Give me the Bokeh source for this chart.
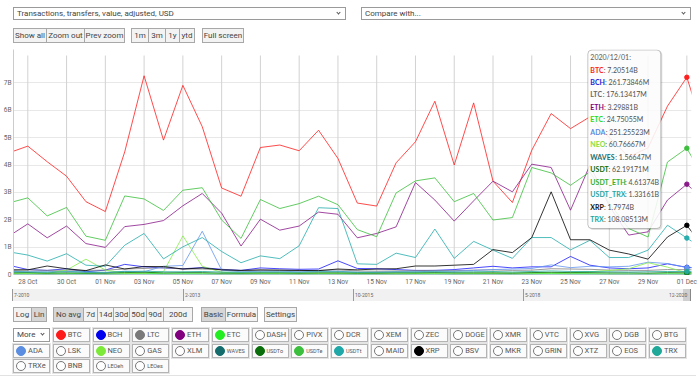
import pandas as pd
from bokeh.plotting import figure
from bokeh.models import (Div, FixedTicker, DatetimeTickFormatter, CustomJSTickFormatter,
                          Range1d, BoxAnnotation, Label, ColumnDataSource)
from bokeh.layouts import column
from bokeh.embed import file_html
from bokeh.resources import INLINE

# ---------------- data (billions USD per day, 27 Oct .. 02 Dec 2020) ----------------
dates = pd.date_range("2020-10-27", "2020-12-02", freq="D")

btc = [4.44, 4.69, 4.12, 3.59, 2.66, 2.30, 4.48, 7.26, 4.91, 6.91, 5.40, 3.16, 2.86, 4.64, 4.73,
       4.52, 5.27, 4.24, 2.61, 2.50, 4.08, 4.85, 6.33, 4.00, 6.27, 3.41, 2.63, 4.54, 5.88, 5.33,
       5.76, 5.00, 4.30, 4.63, 6.15, 7.20514, 4.95]
bch = [0.34, 0.18, 0.15, 0.21, 0.10, 0.16, 0.37, 0.28, 0.24, 0.21, 0.25, 0.19, 0.15, 0.24, 0.21,
       0.19, 0.20, 0.50, 0.22, 0.21, 0.18, 0.15, 0.15, 0.18, 0.24, 0.30, 0.24, 0.28, 0.28, 0.66,
       0.34, 0.24, 0.21, 0.24, 0.39, 0.26173846, 0.24]
ltc = [0.18, 0.17, 0.15, 0.16, 0.15, 0.16, 0.20, 0.22, 0.25, 0.20, 0.20, 0.17, 0.14, 0.15, 0.15,
       0.14, 0.15, 0.17, 0.13, 0.12, 0.13, 0.14, 0.15, 0.14, 0.16, 0.17, 0.15, 0.16, 0.21, 0.20,
       0.19, 0.16, 0.15, 0.15, 0.18, 0.17613417, 0.16]
eth = [1.39, 1.85, 1.34, 1.77, 1.13, 0.99, 1.75, 1.83, 1.97, 2.51, 2.96, 2.24, 1.04, 2.02, 1.62,
       1.77, 2.28, 2.20, 1.34, 1.50, 1.74, 3.36, 2.72, 1.95, 2.69, 3.41, 3.02, 4.03, 3.91, 2.35,
       4.00, 2.50, 1.44, 1.56, 2.72, 3.29881, 2.64]
etc = [0.03, 0.03, 0.02, 0.03, 0.03, 0.02, 0.03, 0.04, 0.03, 0.03, 0.03, 0.02, 0.02, 0.03, 0.03,
       0.02, 0.03, 0.03, 0.02, 0.02, 0.02, 0.03, 0.03, 0.02, 0.03, 0.03, 0.02, 0.03, 0.04, 0.03,
       0.03, 0.02, 0.02, 0.02, 0.03, 0.02475055, 0.02]
ada = [0.12, 0.10, 0.10, 0.12, 0.08, 0.06, 0.12, 0.10, 0.30, 0.33, 1.58, 0.16, 0.10, 0.12, 0.12,
       0.10, 0.12, 0.12, 0.08, 0.08, 0.10, 0.10, 0.12, 0.12, 0.15, 0.18, 0.20, 0.22, 0.35, 0.25,
       0.30, 0.28, 0.30, 0.45, 0.40, 0.25125523, 0.22]
neo = [0.05, 0.05, 0.04, 0.16, 0.56, 0.16, 0.05, 0.05, 0.10, 1.41, 0.30, 0.08, 0.05, 0.05, 0.05,
       0.05, 0.05, 0.05, 0.05, 0.05, 0.05, 0.05, 0.05, 0.05, 0.05, 0.05, 0.06, 0.06, 0.06, 0.06,
       0.10, 0.15, 0.21, 0.43, 0.27, 0.06076667, 0.06]
waves = [0.002, 0.002, 0.002, 0.002, 0.002, 0.002, 0.002, 0.003, 0.002, 0.002, 0.002, 0.002,
         0.002, 0.002, 0.002, 0.002, 0.002, 0.002, 0.002, 0.002, 0.002, 0.002, 0.002, 0.002,
         0.002, 0.002, 0.002, 0.002, 0.002, 0.002, 0.002, 0.002, 0.002, 0.002, 0.002,
         0.00156647, 0.002]
usdt = [0.06, 0.07, 0.05, 0.06, 0.05, 0.05, 0.07, 0.08, 0.06, 0.07, 0.07, 0.05, 0.05, 0.06, 0.06,
        0.05, 0.06, 0.06, 0.05, 0.05, 0.06, 0.06, 0.07, 0.06, 0.06, 0.06, 0.05, 0.07, 0.08, 0.07,
        0.07, 0.06, 0.06, 0.05, 0.07, 0.06219171, 0.06]
usdt_eth = [2.61, 2.80, 2.14, 2.45, 1.40, 1.25, 2.87, 2.76, 2.34, 3.08, 3.17, 1.99, 1.32, 2.74,
            2.41, 2.59, 2.86, 2.55, 1.64, 1.38, 2.98, 3.42, 3.53, 2.66, 2.96, 1.99, 2.08, 3.91,
            3.71, 3.26, 3.75, 2.60, 1.68, 1.37, 4.11, 4.61374, 3.35]
usdt_trx = [0.83, 0.71, 0.49, 0.76, 0.34, 0.30, 1.07, 1.50, 0.57, 1.01, 1.35, 0.84, 0.43, 0.68,
            0.58, 1.05, 2.44, 2.41, 0.39, 0.37, 0.78, 0.62, 1.66, 0.59, 1.21, 0.89, 0.59, 1.35,
            1.35, 0.90, 1.25, 0.62, 0.62, 0.89, 1.80, 1.33161, 0.85]
xrp = [0.16, 0.17, 0.31, 0.21, 0.14, 0.35, 0.20, 0.29, 0.29, 0.20, 0.24, 0.17, 0.15, 0.17, 0.16,
       0.15, 0.14, 0.20, 0.17, 0.20, 0.21, 0.31, 0.31, 0.34, 0.37, 0.91, 0.80, 1.35, 3.02, 1.27,
       1.27, 0.89, 0.75, 0.56, 1.37, 1.7974, 0.85]
trx = [0.10, 0.09, 0.08, 0.10, 0.09, 0.08, 0.11, 0.12, 0.10, 0.10, 0.11, 0.09, 0.08, 0.09, 0.09,
       0.08, 0.10, 0.10, 0.08, 0.08, 0.09, 0.09, 0.10, 0.09, 0.10, 0.11, 0.09, 0.11, 0.13, 0.11,
       0.11, 0.10, 0.09, 0.10, 0.11, 0.10808513, 0.10]

names = ["BTC", "BCH", "LTC", "ETH", "ETC", "ADA", "NEO", "WAVES", "USDT", "USDT_ETH",
         "USDT_TRX", "XRP", "TRX"]
values = [btc, bch, ltc, eth, etc, ada, neo, waves, usdt, usdt_eth, usdt_trx, xrp, trx]

y_ticks = [0, 1, 2, 3, 4, 5, 6, 7]
tooltip_title = "2020/12/01:"

# ---------------- styles ----------------
line_colors = {"BTC": "#ff1f1f", "BCH": "#1a1aff", "LTC": "#808080", "ETH": "#8a1a8a",
               "ETC": "#2aee2a", "ADA": "#6495ed", "NEO": "#86ec4a", "WAVES": "#1b6e6e",
               "USDT": "#0c6e0c", "USDT_ETH": "#3cbf3c", "USDT_TRX": "#26adad",
               "XRP": "#000000", "TRX": "#23a99a"}
text_colors = {"BTC": "#ff1a1a", "BCH": "#2222dd", "LTC": "#666666", "ETH": "#800080",
               "ETC": "#22dd22", "ADA": "#5a8ae0", "NEO": "#88e040", "WAVES": "#1b6e6e",
               "USDT": "#0c6e0c", "USDT_ETH": "#33b033", "USDT_TRX": "#22a5a5",
               "XRP": "#111111", "TRX": "#22a598"}
# approximate Lato Bold advance widths (em)
glyph_em = {"A": 0.70, "B": 0.63, "C": 0.66, "D": 0.74, "E": 0.55, "H": 0.76, "L": 0.48,
            "N": 0.76, "O": 0.78, "P": 0.60, "R": 0.63, "S": 0.52, "T": 0.58, "U": 0.72,
            "V": 0.70, "W": 1.04, "X": 0.68, "_": 0.45}
TT_FS = 7
FONT = "Roboto"

FL, FR = 13, 691          # frame left/right (page px)
FW, FH = FR - FL, 225
x_start = pd.Timestamp("2020-10-28") - pd.Timedelta(days=0.738)
x_end = pd.Timestamp("2020-12-01") + pd.Timedelta(days=0.24)
Y_END = 8.22e9


def ms(ts):
    return ts.value / 1e6


span_ms = ms(x_end) - ms(x_start)
px_x = FW / span_ms          # px per ms
px_y = FH / Y_END            # px per unit

p = figure(frame_width=FW, frame_height=FH, x_axis_type="datetime",
           x_range=Range1d(ms(x_start), ms(x_end)), y_range=Range1d(0, Y_END),
           output_backend="svg", toolbar_location=None,
           min_border_left=FL, min_border_right=8, min_border_top=0, min_border_bottom=13)
p.outline_line_color = None
p.background_fill_color = "white"
p.border_fill_color = "white"

# axes
xticks = [ms(pd.Timestamp("2020-10-28") + pd.Timedelta(days=2 * k)) for k in range(18)]
p.xaxis.ticker = FixedTicker(ticks=xticks)
fmt = "%d %b"
p.xaxis.formatter = DatetimeTickFormatter(milliseconds=fmt, seconds=fmt, minsec=fmt, minutes=fmt,
                                          hourmin=fmt, hours=fmt, days=fmt, months=fmt, years=fmt)
for ax in (p.xaxis[0], p.yaxis[0]):
    ax.major_tick_line_color = None
    ax.minor_tick_line_color = None
    ax.major_tick_out = 0
    ax.major_tick_in = 0
    ax.minor_tick_out = 0
    ax.minor_tick_in = 0
    ax.major_label_text_font = FONT
    ax.major_label_text_font_size = "6.5px"
    ax.major_label_text_color = "#666666"
p.xaxis.axis_line_color = None
p.xaxis.major_label_standoff = 3

p.yaxis.ticker = FixedTicker(ticks=[t * 1e9 for t in y_ticks])
p.yaxis.formatter = CustomJSTickFormatter(code="return tick == 0 ? '0' : (tick/1e9).toFixed(0) + 'B';")
p.yaxis.axis_line_color = "#cccccc"
p.yaxis.major_label_standoff = 2

p.xgrid.visible = False
p.ygrid.grid_line_color = "#e8e8e8"

# vertical grid lines (from 0 up to the 8B level)
p.segment(x0=xticks, y0=[0] * len(xticks), x1=xticks, y1=[8e9] * len(xticks),
          line_color="#d2d2d2", line_width=1)

xs = [ms(d) for d in dates]
for name, vals in zip(names, values):
    src = ColumnDataSource(dict(x=xs, y=[v * 1e9 for v in vals]))
    p.line("x", "y", source=src, line_color=line_colors[name], line_width=1, line_alpha=0.8)

# hover markers at 01 Dec
i_dec1 = list(dates).index(pd.Timestamp("2020-12-01"))
for name, vals in zip(names, values):
    p.scatter([xs[i_dec1]], [vals[i_dec1] * 1e9], size=4.5, fill_color=line_colors[name],
              line_color=line_colors[name])

# ---------------- tooltip ----------------
dec1 = xs[i_dec1]
tt_left = dec1 - 99 / px_x
tt_right = dec1 - 26 / px_x
tt_top = Y_END
tt_h = 179
tt_bottom = Y_END - tt_h / px_y
p.add_layout(BoxAnnotation(left=tt_left + 1.5 / px_x, right=tt_right + 1.5 / px_x,
                           top=tt_top - 1.5 / px_y, bottom=tt_bottom - 1.5 / px_y,
                           fill_color="black", fill_alpha=0.12, line_color=None,
                           border_radius=4))
p.add_layout(BoxAnnotation(left=tt_left, right=tt_right, top=tt_top - 0.5 / px_y,
                           bottom=tt_bottom, fill_color="white", fill_alpha=0.88,
                           line_color="#3a3a3a", line_width=1, border_radius=4))


def fmt_val(v):
    if v >= 1:
        s = f"{v:.5f}".rstrip("0").rstrip(".")
        return s + "B"
    s = f"{v * 1000:.5f}".rstrip("0").rstrip(".")
    return s + "M"


tx = tt_left + 2.5 / px_x
p.add_layout(Label(x=tx, y=tt_top - 7 / px_y, text=tooltip_title, text_font="Lato",
                   text_font_size=f"{TT_FS}px", text_color="#5a5a5a", text_baseline="middle"))
for k, (name, vals) in enumerate(zip(names, values)):
    yy = tt_top - (20 + 12.47 * k) / px_y
    nw = sum(glyph_em[ch] for ch in name) * TT_FS + 0.3
    p.add_layout(Label(x=tx, y=yy, text=name, text_font="Lato", text_font_size=f"{TT_FS}px",
                       text_font_style="bold", text_color=text_colors[name],
                       text_baseline="middle"))
    p.add_layout(Label(x=tx + nw / px_x, y=yy, text=": " + fmt_val(vals[i_dec1]),
                       text_font="Lato", text_font_size=f"{TT_FS}px", text_color="#505050",
                       text_baseline="middle"))

# ---------------- HTML chrome ----------------
BTN_BORDER = "#a8a8a8"


def chevron(x, y):
    return (f'<div style="position:absolute;left:{x}px;top:{y}px;width:3px;height:3px;'
            f'border-right:1px solid #555;border-bottom:1px solid #555;transform:rotate(45deg);"></div>')


def select_box(x, y, w, h, label):
    return (f'<div style="position:absolute;left:{x}px;top:{y}px;width:{w}px;height:{h}px;'
            f'box-sizing:border-box;border:1px solid #9a9a9a;background:#fff;">'
            f'<div style="position:absolute;left:3px;top:0;line-height:{h - 2}px;font-size:8px;'
            f'color:#444;white-space:nowrap;">{label}</div></div>'
            + chevron(x + w - 9, y + h / 2 - 3))


def button(x0, x1, y, h, label, active=False, fs=8):
    bg = "#d6d6d6" if active else "#f3f3f3"
    return (f'<div style="position:absolute;left:{x0}px;top:{y}px;width:{x1 - x0}px;height:{h}px;'
            f'box-sizing:border-box;border:1px solid {BTN_BORDER};background:{bg};'
            f'text-align:center;line-height:{h - 2}px;font-size:{fs}px;color:#444;'
            f'white-space:nowrap;overflow:hidden;">{label}</div>')


def group(xs_edges, labels, y, h, active=()):
    out = ""
    for i, lab in enumerate(labels):
        out += button(xs_edges[i], xs_edges[i + 1] + (1 if i < len(labels) - 1 else 0), y, h, lab,
                      lab in active)
    return out


TOP_H = 49
top_html = f'<div style="position:relative;width:696px;height:{TOP_H}px;font-family:Roboto;">'
top_html += select_box(13, 7, 333, 13, "Transactions, transfers, value, adjusted, USD")
top_html += select_box(361, 7, 330, 13, "Compare with...")
top_html += group([13, 46, 84, 125], ["Show all", "Zoom out", "Prev zoom"], 28, 15)
top_html += group([131, 148, 165, 179, 195], ["1m", "3m", "1y", "ytd"], 28, 15)
top_html += group([202, 244], ["Full screen"], 28, 15)
top_html += "</div>"
top_div = Div(text=top_html, width=696, height=TOP_H, margin=0)


def toggle(x, y, label, color, small):
    if color:
        circ = f"background:{color};border:1px solid {color};"
    else:
        circ = "background:#fff;border:1px solid #777;"
    fs = 5.5 if small else 7.5
    return (f'<div style="position:absolute;left:{x}px;top:{y}px;width:37px;height:14px;'
            f'box-sizing:border-box;border:1px solid #b4b4b4;box-shadow:0 0 0 1px #e4e4e4;'
            f'background:#fbfbfb;">'
            f'<div style="position:absolute;left:2px;top:1px;width:10px;height:10px;border-radius:50%;'
            f'box-sizing:border-box;{circ}"></div>'
            f'<div style="position:absolute;left:14px;top:0;line-height:12px;font-size:{fs}px;'
            f'color:#555;white-space:nowrap;">{label}</div></div>')


toggle_rows = [
    [None, "BTC", "BCH", "LTC", "ETH", "ETC", "DASH", "PIVX", "DCR", "XEM", "ZEC", "DOGE", "XMR",
     "VTC", "XVG", "DGB", "BTG"],
    ["ADA", "LSK", "NEO", "GAS", "XLM", "WAVES", "USDTo", "USDTe", "USDTt", "MAID", "XRP", "BSV",
     "MKR", "GRIN", "XTZ", "EOS", "TRX"],
    ["TRXe", "BNB", "LEOeh", "LEOes"],
]
toggle_colors = {"BTC": "#ff1a1a", "BCH": "#0000ee", "LTC": "#7a7a7a", "ETH": "#800080",
                 "ETC": "#22ee22", "ADA": "#5b8ee0", "NEO": "#7dea3a", "WAVES": "#146c6c",
                 "USDTo": "#0a6e0a", "USDTe": "#3cbf3c", "USDTt": "#20a8a8", "XRP": "#000000",
                 "TRX": "#20a898"}
small_labels = {"WAVES", "USDTo", "USDTe", "USDTt", "LEOeh", "LEOes"}

BOT_H = 88
bot_html = f'<div style="position:relative;width:696px;height:{BOT_H}px;font-family:Roboto;">'
# navigator
bot_html += ('<div style="position:absolute;left:12px;top:1px;width:679px;height:12px;'
             'background:#f1f1f1;"></div>')
for lx, lab in [(12, "7-2010"), (183, "2-2013"), (353, "10-2015"), (523, "5-2018")]:
    bot_html += (f'<div style="position:absolute;left:{lx}px;top:1px;width:1px;height:12px;'
                 f'background:#999;"></div>'
                 f'<div style="position:absolute;left:{lx + 2}px;top:1px;line-height:12px;'
                 f'font-size:5px;color:#666;">{lab}</div>')
bot_html += ('<div style="position:absolute;left:683px;top:1px;width:7px;height:12px;'
             'background:#cfcfcf;"></div>'
             '<div style="position:absolute;left:690px;top:1px;width:1px;height:12px;'
             'background:#888;"></div>'
             '<div style="position:absolute;left:669px;top:1px;line-height:12px;'
             'font-size:5px;color:#666;">12-2020</div>')
# option buttons
bot_html += group([13, 31, 47], ["Log", "Lin"], 19, 15, active=("Lin",))
bot_html += group([53, 83, 97, 113, 129, 146, 163, 193],
                  ["No avg", "7d", "14d", "30d", "50d", "90d", "200d"], 19, 15,
                  active=("No avg",))
bot_html += group([201, 225, 258], ["Basic", "Formula"], 19, 15, active=("Basic",))
bot_html += group([264, 297], ["Settings"], 19, 15)
# toggles
row_y = [40, 56, 71]
for r, row in enumerate(toggle_rows):
    for c, lab in enumerate(row):
        x = round(13 + c * 39.75, 1)
        if lab is None:
            bot_html += select_box(x, row_y[r], 37, 14, "More")
        else:
            bot_html += toggle(x, row_y[r], lab, toggle_colors.get(lab), lab in small_labels)
bot_html += ('<div style="position:absolute;left:0;top:87px;width:696px;height:1px;'
             'background:#e2e2e2;"></div>')
bot_html += "</div>"
bot_div = Div(text=bot_html, width=696, height=BOT_H, margin=0)

layout = column(top_div, p, bot_div, spacing=0, margin=0)
open("out.html", "w").write(file_html(layout, INLINE))
